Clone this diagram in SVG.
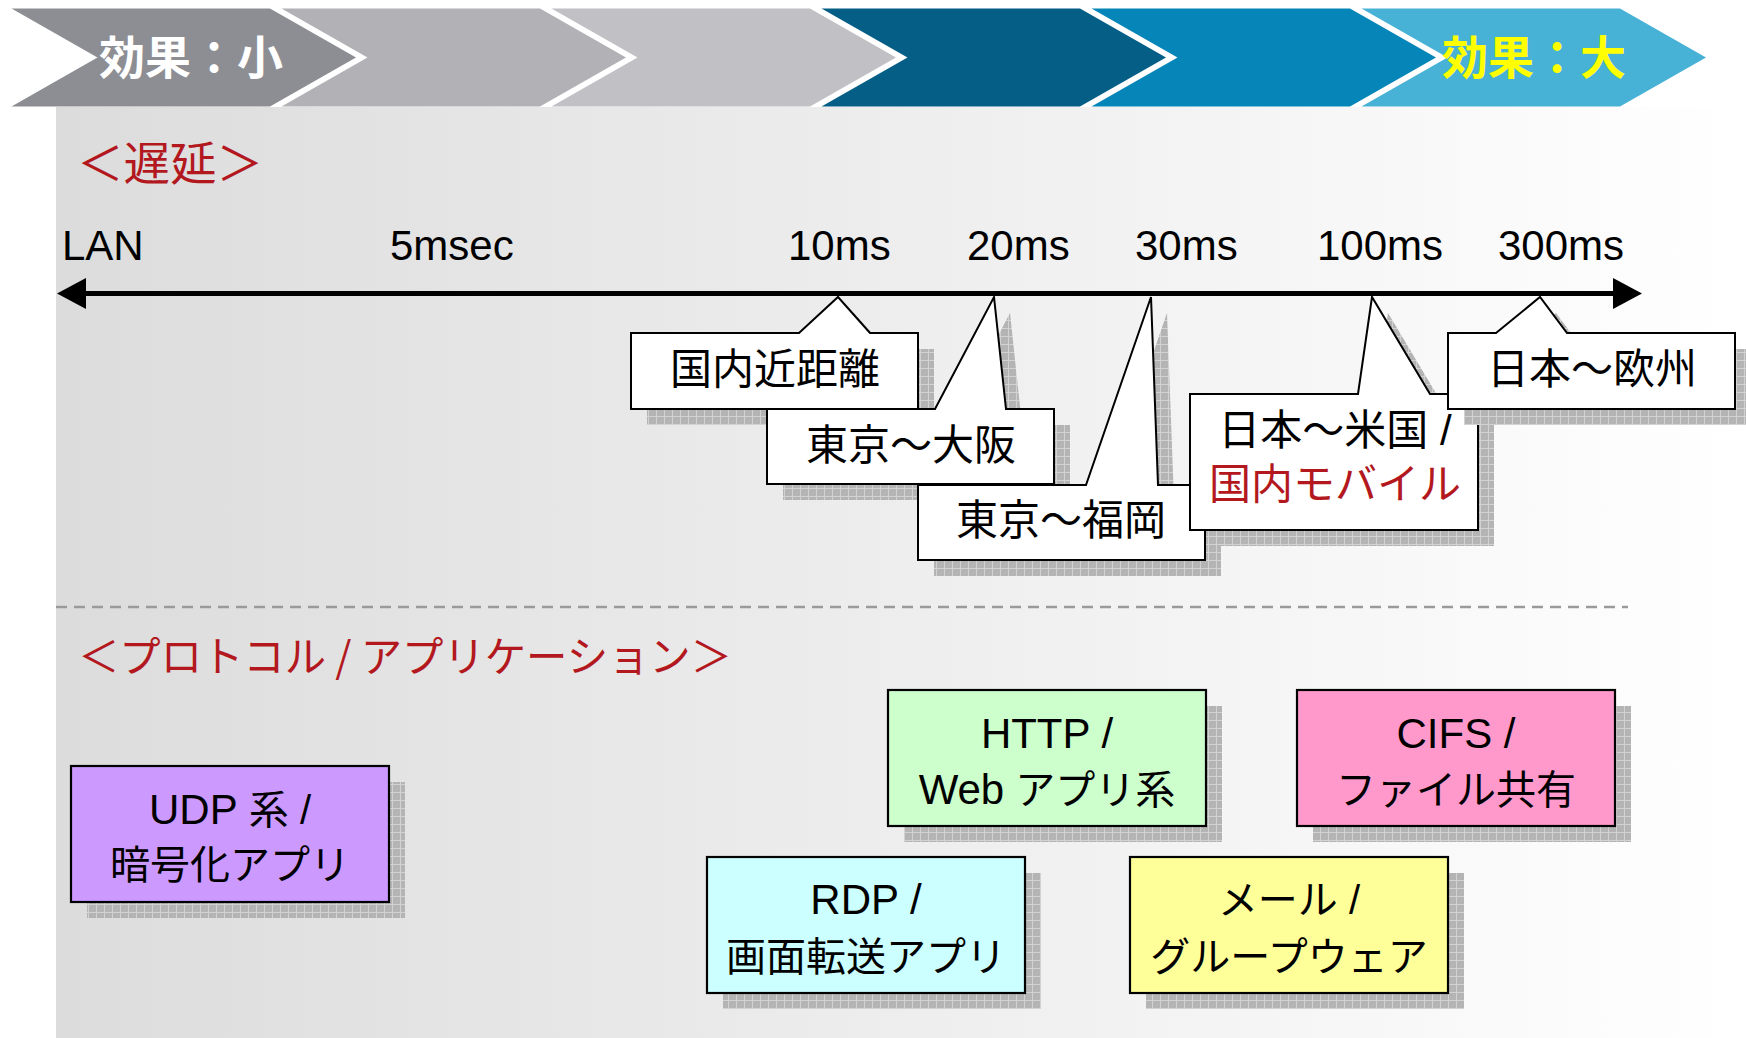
<svg xmlns="http://www.w3.org/2000/svg" width="1746" height="1038" viewBox="0 0 1746 1038">
  <defs>
    <linearGradient id="panelGrad" gradientUnits="userSpaceOnUse" x1="56" y1="0" x2="1746" y2="0">
      <stop offset="0" stop-color="#dcdcdc"/>
      <stop offset="1" stop-color="#ffffff"/>
    </linearGradient>
    <pattern id="hatch" patternUnits="userSpaceOnUse" width="8" height="8">
      <rect width="8" height="8" fill="#b4b4b4"/>
      <path d="M0,0.5 H8 M0.5,0 V8" stroke="#d2d2d2" stroke-width="1" fill="none"/>
    </pattern>
    <marker id="arrowHead" markerUnits="userSpaceOnUse" markerWidth="30" markerHeight="32" refX="0" refY="15.5" orient="auto-start-reverse" viewBox="0 0 30 32">
      <path d="M0,0 L29,15.5 L0,31 Z" fill="#000"/>
    </marker>
    <style>
      .jp { font-family: "Noto Sans CJK JP", "Noto Sans CJK SC", sans-serif; }
      .mix { font-family: "Liberation Sans", "Noto Sans CJK JP", sans-serif; }
      .head { font-size: 46px; font-weight: bold; }
      .sect { font-size: 46px; fill: #b2181d; }
      .axis { font-size: 42px; fill: #000; }
      .call { fill: #fff; stroke: #000; stroke-width: 2; stroke-linejoin: miter; }
      .shadow { fill: url(#hatch); }
      .ctext { font-size: 42px; fill: #000; text-anchor: middle; }
      .box { stroke: #000; stroke-width: 2.2; }
      .btext { font-size: 40px; fill: #000; text-anchor: middle; }
      .lat { font-size: 42px; }
    </style>
  </defs>

  <rect width="1746" height="1038" fill="#ffffff"/>

  <!-- background panel -->
  <rect x="56" y="107" width="1690" height="931" fill="url(#panelGrad)"/>

  <!-- effect band -->
  <g id="effect-band">
    <polygon points="11.5,8.5 270,8.5 356,57.5 270,106.5 11.5,106.5 97.5,57.5" fill="#8d8e93"/>
    <polygon points="281.5,8.5 540,8.5 626,57.5 540,106.5 281.5,106.5 367.5,57.5" fill="#b1b1b6"/>
    <polygon points="551.5,8.5 810,8.5 896,57.5 810,106.5 551.5,106.5 637.5,57.5" fill="#c0c0c5"/>
    <polygon points="821.5,8.5 1080,8.5 1166,57.5 1080,106.5 821.5,106.5 907.5,57.5" fill="#045e86"/>
    <polygon points="1091.5,8.5 1350,8.5 1436,57.5 1350,106.5 1091.5,106.5 1177.5,57.5" fill="#0585b8"/>
    <polygon points="1361.5,8.5 1620,8.5 1706,57.5 1620,106.5 1361.5,106.5 1447.5,57.5" fill="#48b1d6"/>
    <text class="jp head" x="99" y="74" fill="#ffffff">効果：小</text>
    <text class="jp head" x="1442" y="74" fill="#ffff00">効果：大</text>
  </g>

  <!-- section titles -->
  <text id="title-latency" class="jp sect" x="77" y="180" textLength="186" lengthAdjust="spacingAndGlyphs">＜遅延＞</text>
  <text id="title-proto" class="jp sect" x="78" y="672" font-size="42" style="font-size:42px" textLength="654" lengthAdjust="spacingAndGlyphs">＜プロトコル / アプリケーション＞</text>

  <!-- axis labels -->
  <g id="axis-labels" class="mix axis">
    <text x="62" y="260">LAN</text>
    <text x="390" y="260">5msec</text>
    <text x="788" y="260">10ms</text>
    <text x="967" y="260">20ms</text>
    <text x="1135" y="260">30ms</text>
    <text x="1317" y="260">100ms</text>
    <text x="1498" y="260">300ms</text>
  </g>

  <!-- connectors: latency axis -->
  <g id="connectors">
    <line x1="86" y1="293.5" x2="1613" y2="293.5" stroke="#000" stroke-width="5" marker-start="url(#arrowHead)" marker-end="url(#arrowHead)"/>
  </g>

  <!-- divider -->
  <line x1="56" y1="607" x2="1628" y2="607" stroke="#9a9a9a" stroke-width="2.5" stroke-dasharray="11 7"/>

  <!-- latency callouts -->
  <g id="callout-kokunai">
    <path class="shadow" transform="translate(16,16)" d="M631,333 H799 L838,297 L870,333 H918 V409 H631 Z"/>
    <path class="call" d="M631,333 H799 L838,297 L870,333 H918 V409 H631 Z"/>
    <text class="jp ctext" x="775" y="384">国内近距離</text>
  </g>
  <g id="callout-osaka">
    <path class="shadow" transform="translate(16,16)" d="M767,409 H935 L994,297 L1006,409 H1054 V484 H767 Z"/>
    <path class="call" d="M767,409 H935 L994,297 L1006,409 H1054 V484 H767 Z"/>
    <text class="jp ctext" x="911" y="460">東京～大阪</text>
  </g>
  <g id="callout-fukuoka">
    <path class="shadow" transform="translate(16,16)" d="M918,485 H1086 L1151,297 L1158,485 H1205 V560 H918 Z"/>
    <path class="call" d="M918,485 H1086 L1151,297 L1158,485 H1205 V560 H918 Z"/>
    <text class="jp ctext" x="1061" y="535">東京～福岡</text>
  </g>
  <g id="callout-usa">
    <path class="shadow" transform="translate(16,16)" d="M1190,394 H1358 L1372,297 L1430,394 H1478 V530 H1190 Z"/>
    <path class="call" d="M1190,394 H1358 L1372,297 L1430,394 H1478 V530 H1190 Z"/>
    <text class="mix ctext" x="1335" y="445">日本～米国 /</text>
    <text class="jp ctext" x="1335" y="499" style="fill:#b2181d">国内モバイル</text>
  </g>
  <g id="callout-europe">
    <path class="shadow" transform="translate(16,16)" d="M1448,333 H1496 L1540,297 L1567,333 H1735 V409 H1448 Z"/>
    <path class="call" d="M1448,333 H1496 L1540,297 L1567,333 H1735 V409 H1448 Z"/>
    <text class="jp ctext" x="1592" y="384">日本～欧州</text>
  </g>

  <!-- protocol / application boxes -->
  <g id="box-udp">
    <rect class="shadow" x="87" y="782" width="318" height="136"/>
    <rect class="box" x="71" y="766" width="318" height="136" fill="#cc99ff"/>
    <text class="mix btext" x="230" y="824"><tspan class="lat">UDP</tspan> 系 /</text>
    <text class="mix btext" x="230" y="879">暗号化アプリ</text>
  </g>
  <g id="box-http">
    <rect class="shadow" x="904" y="706" width="318" height="136"/>
    <rect class="box" x="888" y="690" width="318" height="136" fill="#ccffcc"/>
    <text class="mix btext" x="1047" y="748"><tspan class="lat">HTTP /</tspan></text>
    <text class="mix btext" x="1047" y="804"><tspan class="lat">Web</tspan> アプリ系</text>
  </g>
  <g id="box-cifs">
    <rect class="shadow" x="1313" y="706" width="318" height="136"/>
    <rect class="box" x="1297" y="690" width="318" height="136" fill="#ff99cc"/>
    <text class="mix btext" x="1456" y="748"><tspan class="lat">CIFS /</tspan></text>
    <text class="mix btext" x="1456" y="804">ファイル共有</text>
  </g>
  <g id="box-rdp">
    <rect class="shadow" x="723" y="873" width="318" height="136"/>
    <rect class="box" x="707" y="857" width="318" height="136" fill="#ccffff"/>
    <text class="mix btext" x="866" y="914"><tspan class="lat">RDP /</tspan></text>
    <text class="mix btext" x="866" y="971">画面転送アプリ</text>
  </g>
  <g id="box-mail">
    <rect class="shadow" x="1146" y="873" width="318" height="136"/>
    <rect class="box" x="1130" y="857" width="318" height="136" fill="#ffff99"/>
    <text class="mix btext" x="1289" y="914">メール /</text>
    <text class="mix btext" x="1289" y="971">グループウェア</text>
  </g>
</svg>
